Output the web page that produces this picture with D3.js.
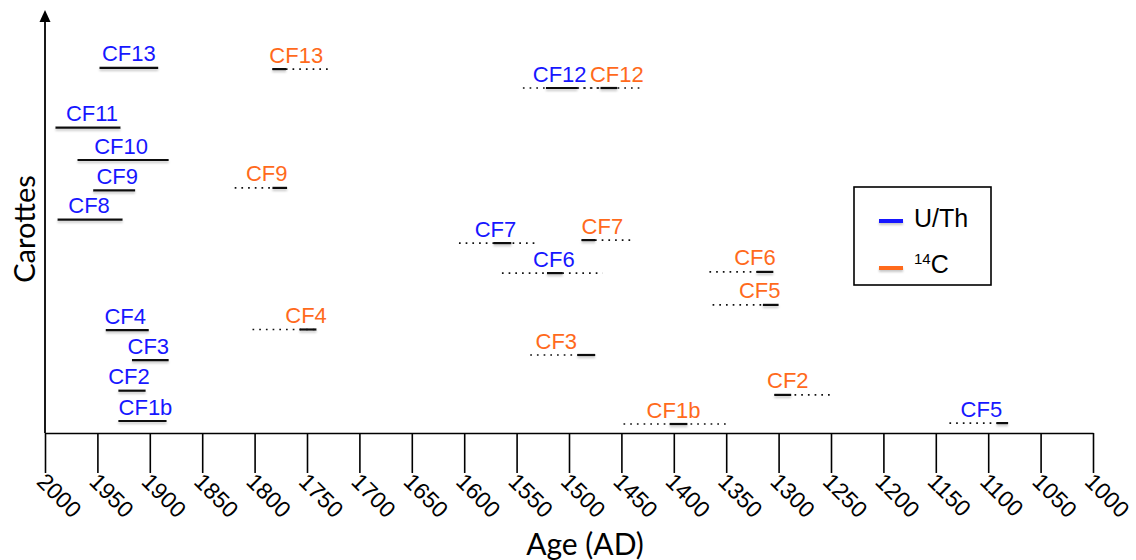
<!DOCTYPE html>
<html><head><meta charset="utf-8">
<script src="https://cdn.jsdelivr.net/npm/d3@7"></script>
<style>html,body{margin:0;padding:0;background:#fff;overflow:hidden}</style>
</head><body><svg id="chart" width="1136" height="560"></svg>
<script>
// ---------- data ----------
const tickYears = [2000,1950,1900,1850,1800,1750,1700,1650,1600,1550,1500,1450,1400,1350,1300,1250,1200,1150,1100,1050,1000];

// U/Th ages (blue labels)
const uthLabels   = ["CF13","CF12","CF11","CF10","CF9","CF8","CF7","CF6","CF5","CF4","CF3","CF2","CF1b"];
const uthRow      = [12.17, 11.5, 10.18, 9.1, 8.09, 7.11, 6.33, 5.33, 0.33, 3.43, 2.43, 1.41, 0.4];
const uthFrom     = [1948, 1522, 1990, 1969, 1954, 1988, 1572, 1521, 1092, 1942, 1917, 1930, 1930];
const uthTo       = [1892, 1492, 1928, 1882, 1914, 1926, 1555, 1506, 1081, 1901, 1882, 1904, 1884];
const uthSpanFrom = [null, 1544, null, null, null, null, 1605, 1564, 1137, null, null, null, null];
const uthSpanTo   = [null, 1470, null, null, null, null, 1531, 1468, 1081, null, null, null, null];

// 14C ages (orange labels)
const c14Labels   = ["CF13","CF12","CF9","CF7","CF6","CF5","CF4","CF3","CF2","CF1b"];
const c14Row      = [12.13, 11.5, 8.17, 6.43, 5.37, 4.27, 3.45, 2.6, 1.27, 0.3];
const c14From     = [1783, 1470, 1783, 1488, 1321, 1315, 1757, 1492, 1304, 1404];
const c14To       = [1770, 1454, 1769, 1475, 1305, 1300, 1741, 1475, 1288, 1387];
const c14SpanFrom = [1783, 1492, 1819, 1488, 1366, 1363, 1802, 1537, 1304, 1448];
const c14SpanTo   = [1728, 1432, 1769, 1439, 1305, 1300, 1741, 1475, 1248, 1348];

const legendNames = ["U/Th", "14C"];

// ---------- layout ----------
const BLUE = "#1717ff", ORANGE = "#ff6a1c";
const labelNudge = {
  "u:CF13":0, "u:CF12":-2, "u:CF11":4, "u:CF10":-2, "u:CF9":3, "u:CF8":-1, "u:CF7":-7, "u:CF6":-1,
  "u:CF5":-21, "u:CF4":-2, "u:CF3":-2, "u:CF2":-3, "u:CF1b":3,
  "c:CF13":17, "c:CF12":8, "c:CF9":-13, "c:CF7":14, "c:CF6":-10, "c:CF5":-11, "c:CF4":-2,
  "c:CF3":-30, "c:CF2":5, "c:CF1b":-5
};

const svg = d3.select("#chart");
const x = d3.scaleLinear().domain([2000, 1000]).range([45, 1093]);
const y = d3.scaleLinear().domain([0, 14]).range([433, 13]);

const defs = svg.append("defs");
const f = defs.append("filter").attr("id","sh").attr("filterUnits","userSpaceOnUse")
  .attr("x",0).attr("y",0).attr("width",1136).attr("height",560);
f.append("feDropShadow").attr("dx",0).attr("dy",2).attr("stdDeviation",1.3)
  .attr("flood-color","#000").attr("flood-opacity",0.22);

// x axis
const xAxis = d3.axisBottom(x).tickValues(tickYears).tickSize(40).tickSizeOuter(0).tickFormat(d3.format("d"));
const gx = svg.append("g").attr("transform", `translate(0,${y(0)})`).call(xAxis);
gx.select(".domain").attr("stroke","#000").attr("stroke-width",1.6);
gx.selectAll(".tick line").attr("stroke","#000").attr("stroke-width",1.6);
gx.selectAll(".tick text")
  .attr("x",0).attr("y",0).attr("dy",null)
  .attr("transform","translate(-10,50) rotate(45)")
  .attr("text-anchor","start")
  .attr("fill","#000")
  .style("font-family","'Liberation Sans', Arial, sans-serif")
  .style("font-size","23px");

// y axis with arrow
svg.append("line").attr("x1", x(2000)).attr("x2", x(2000)).attr("y1", y(0)).attr("y2", 20)
  .attr("stroke","#000").attr("stroke-width",1.8);
svg.append("path").attr("d", `M${x(2000)},10 L${x(2000)-5.5},22 L${x(2000)+5.5},22 Z`).attr("fill","#000");

// axis titles
svg.append("text").attr("x", 585).attr("y", 555).attr("text-anchor","middle")
  .style("font-family","Lato, 'Open Sans', sans-serif").style("font-size","30px").attr("fill","#000")
  .text("Age (AD)");
svg.append("text").attr("transform", `translate(35,229) rotate(-90)`).attr("text-anchor","middle")
  .style("font-family","Lato, 'Open Sans', sans-serif").style("font-size","29px").attr("fill","#000")
  .text("Carottes");

function series(prefix, labels, rows, from, to, spanFrom, spanTo, color) {
  const data = labels.map((l, i) => ({label: l, row: rows[i], from: from[i], to: to[i], sf: spanFrom[i], st: spanTo[i]}));
  const g = svg.append("g");
  g.selectAll("line.span").data(data.filter(d => d.sf != null)).join("line").attr("class","span")
    .attr("x1", d => x(d.sf)).attr("x2", d => x(d.st))
    .attr("y1", d => y(d.row)).attr("y2", d => y(d.row))
    .attr("stroke","#111").attr("stroke-width",1.7).attr("stroke-dasharray","1.7 5");
  g.selectAll("line.solid").data(data).join("line").attr("class","solid")
    .attr("x1", d => x(d.from)).attr("x2", d => x(d.to))
    .attr("y1", d => y(d.row)).attr("y2", d => y(d.row))
    .attr("stroke","#111").attr("stroke-width",2.2).attr("filter","url(#sh)");
  g.selectAll("text").data(data).join("text")
    .attr("x", d => (x(d.from) + x(d.to)) / 2 + (labelNudge[prefix + ":" + d.label] || 0))
    .attr("y", d => y(d.row) - 6.5)
    .attr("text-anchor","middle").attr("fill", color)
    .style("font-family","'Liberation Sans', Arial, sans-serif").style("font-size","22px")
    .text(d => d.label);
}
series("u", uthLabels, uthRow, uthFrom, uthTo, uthSpanFrom, uthSpanTo, BLUE);
series("c", c14Labels, c14Row, c14From, c14To, c14SpanFrom, c14SpanTo, ORANGE);

// legend
const lg = svg.append("g").attr("transform","translate(854,187)");
lg.append("rect").attr("width",137).attr("height",98).attr("fill","#fff").attr("stroke","#000").attr("stroke-width",1.6);
const lcol = [BLUE, ORANGE];
lg.selectAll("line").data(legendNames).join("line")
  .attr("x1",25).attr("x2",49).attr("y1",(d,i)=>34+i*47).attr("y2",(d,i)=>34+i*47)
  .attr("stroke",(d,i)=>lcol[i]).attr("stroke-width",4).attr("filter","url(#sh)");
const lt = lg.selectAll("text").data(legendNames).join("text")
  .attr("x",60).attr("y",(d,i)=>40+i*46)
  .attr("fill","#000")
  .style("font-family","'Liberation Sans', Arial, sans-serif").style("font-size","25px");
lt.each(function(d) {
  const t = d3.select(this);
  const m = d.match(/^(\d+)(.*)$/);
  if (m) {
    t.append("tspan").attr("dy",-9).style("font-size","15px").text(m[1]);
    t.append("tspan").attr("dy",9).text(m[2]);
  } else t.text(d);
});
</script></body></html>
